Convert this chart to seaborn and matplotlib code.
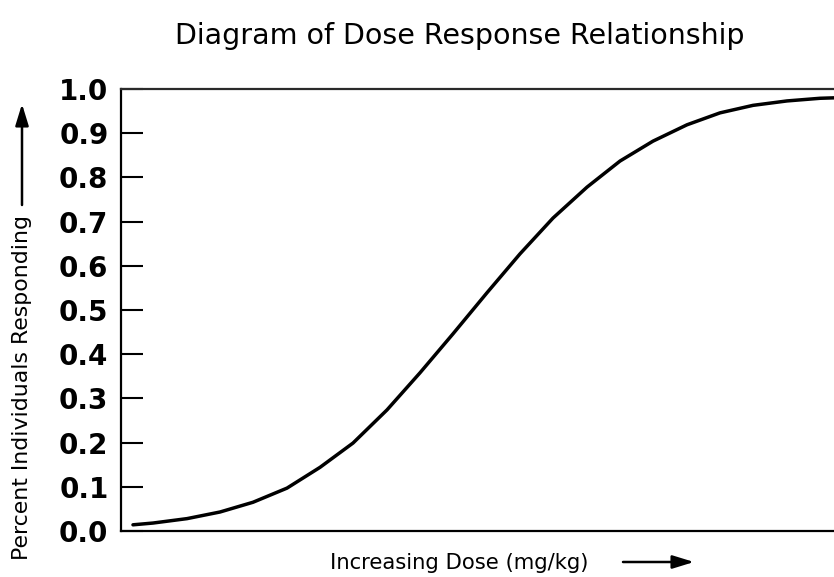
import matplotlib
matplotlib.use("Agg")
import matplotlib.pyplot as plt
import seaborn as sns
import pandas as pd

# Data (dose in arbitrary units, 0..10)
dose = [0.168, 0.449, 0.926, 1.389, 1.851, 2.328, 2.791, 3.254, 3.731, 4.194,
        4.656, 5.133, 5.596, 6.059, 6.536, 6.999, 7.461, 7.938, 8.401, 8.864,
        9.341, 9.804, 10.0]
response = [0.014, 0.018, 0.028, 0.043, 0.065, 0.097, 0.144, 0.199, 0.274, 0.358,
            0.446, 0.539, 0.627, 0.708, 0.778, 0.837, 0.882, 0.919, 0.946, 0.963,
            0.973, 0.979, 0.980]
y_ticks = [0.0, 0.1, 0.2, 0.3, 0.4, 0.5, 0.6, 0.7, 0.8, 0.9, 1.0]
y_tick_labels = ["0.0", "0.1", "0.2", "0.3", "0.4", "0.5", "0.6", "0.7", "0.8", "0.9", "1.0"]

title = "Diagram of Dose Response Relationship"
x_label = "Increasing Dose (mg/kg)"
y_label = "Percent Individuals Responding"

sns.set_style("white")
plt.rcParams["font.family"] = ["DejaVu Sans"]
plt.rcParams["text.color"] = "black"

df = pd.DataFrame({"dose": dose, "response": response})

fig = plt.figure(figsize=(8.34, 5.77), dpi=100)
ax = fig.add_axes([121 / 834, 1 - 531 / 577, 1 - 121 / 834, (531 - 89) / 577])

sns.lineplot(data=df, x="dose", y="response", color="black", linewidth=2.5, ax=ax)

ax.set_xlim(0, 10.0)
ax.set_ylim(0, 1.0)
ax.set_xticks([])
ax.set_yticks(y_ticks)
ax.set_yticklabels(y_tick_labels, fontsize=20, fontweight="bold")
ax.tick_params(axis="y", direction="in", length=16, width=1.5, pad=9, colors="black", left=True)
ax.set_xlabel("")
ax.set_ylabel("")

for side in ["left", "bottom", "top"]:
    ax.spines[side].set_visible(True)
    ax.spines[side].set_color("black")
    ax.spines[side].set_linewidth(1.6)
ax.spines["top"].set_color("#2a2a2a")
ax.spines["right"].set_visible(False)

fig.text(460 / 834, 1 - 36 / 577, title, ha="center", va="center", fontsize=20.5, color="black")
fig.text(459 / 834, 1 - 563 / 577, x_label, ha="center", va="center", fontsize=15.2, color="black")
fig.text(22 / 834, 1 - 387 / 577, y_label, ha="center", va="center", fontsize=15.8,
         rotation=90, color="black")

# arrows next to the axis labels
arrow_kw = dict(arrowstyle="-|>,head_length=1.3,head_width=0.4", color="black", lw=1.8,
                shrinkA=0, shrinkB=0)
ax.annotate("", xy=(694 / 834, 1 - 562 / 577), xytext=(623 / 834, 1 - 562 / 577),
            xycoords="figure fraction", textcoords="figure fraction", arrowprops=arrow_kw,
            annotation_clip=False)
ax.annotate("", xy=(22 / 834, 1 - 104 / 577), xytext=(22 / 834, 1 - 205 / 577),
            xycoords="figure fraction", textcoords="figure fraction", arrowprops=arrow_kw,
            annotation_clip=False)

fig.savefig("out.png", dpi=100)
